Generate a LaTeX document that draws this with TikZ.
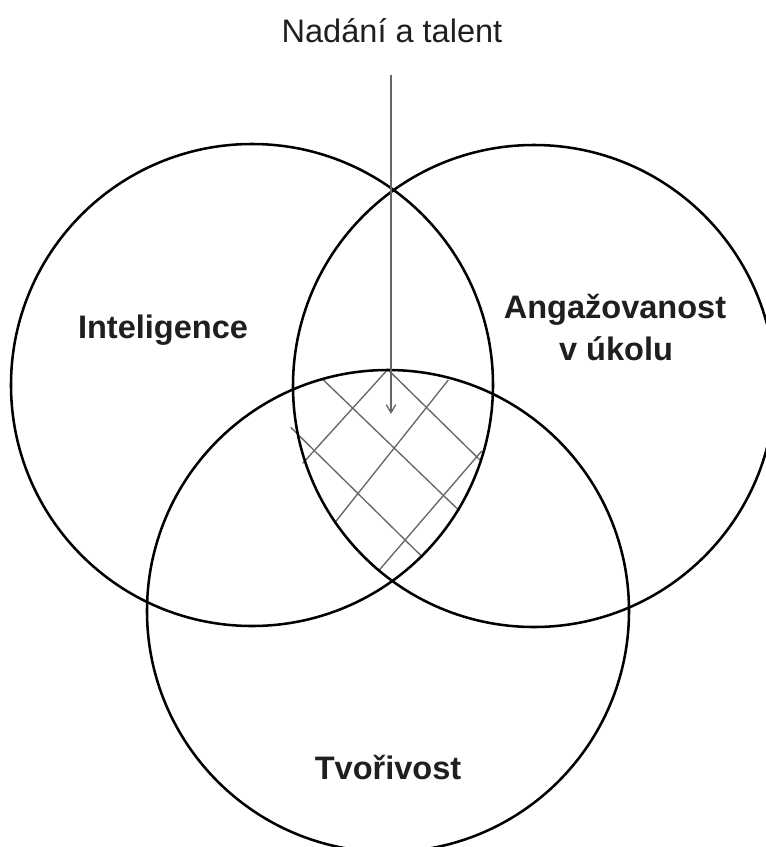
\documentclass[tikz,border=0pt]{standalone}
\usepackage{fontspec}
\setmainfont{Liberation Sans}
\usetikzlibrary{arrows.meta}
\tikzset{
  ring/.style={circle, draw=black, line width=1.9pt, minimum size=361.5pt, inner sep=0pt},
  hatch/.style={draw=black!60, line width=1pt},
  lbl/.style={font=\fontsize{24.4pt}{31pt}\selectfont\bfseries, text=black!88, anchor=base, align=center},
  toplbl/.style={font=\fontsize{24.4pt}{31pt}\selectfont, text=black!88, anchor=base},
  pointer/.style={draw=black!60, line width=1pt, -{Straight Barb[length=6pt,width=7pt,line width=1pt]}}
}
\begin{document}
\begin{tikzpicture}[x=0.75pt,y=-0.75pt]
\useasboundingbox (0,0) rectangle (766,847);
\clip (0,0) rectangle (766,847);
\fill[white] (0,0) rectangle (766,847);
% hatching of the common region
\draw[hatch] (322.7,379.3) -- (459.3,510.7);
\draw[hatch] (388.3,370.0) -- (480.0,460.0);
\draw[hatch] (290.7,427.3) -- (422.7,557.3);
\draw[hatch] (302.7,463.3) -- (387.3,370.0);
\draw[hatch] (334.3,523.3) -- (448.3,380.0);
\draw[hatch] (379.3,570.0) -- (481.7,451.0);
% circles
\node[ring] (intel) at (252,385) {};
\node[ring] (angaz) at (534,386) {};
\node[ring] (tvor)  at (388,611) {};
% labels
\node[toplbl] (nadani) at (392,42) {Nadání a talent};
\node[lbl] (lint) at (163,338) {Inteligence};
\node[lbl] (lang) at (615,318) {Angažovanost};
\node[lbl] (luk)  at (616,360) {v úkolu};
\node[lbl] (ltv)  at (388,779) {Tvořivost};
% pointer
\coordinate (pstart) at (391,75);
\coordinate (pend) at (391,414);
\draw[pointer] (pstart) -- (pend);
\end{tikzpicture}
\end{document}
